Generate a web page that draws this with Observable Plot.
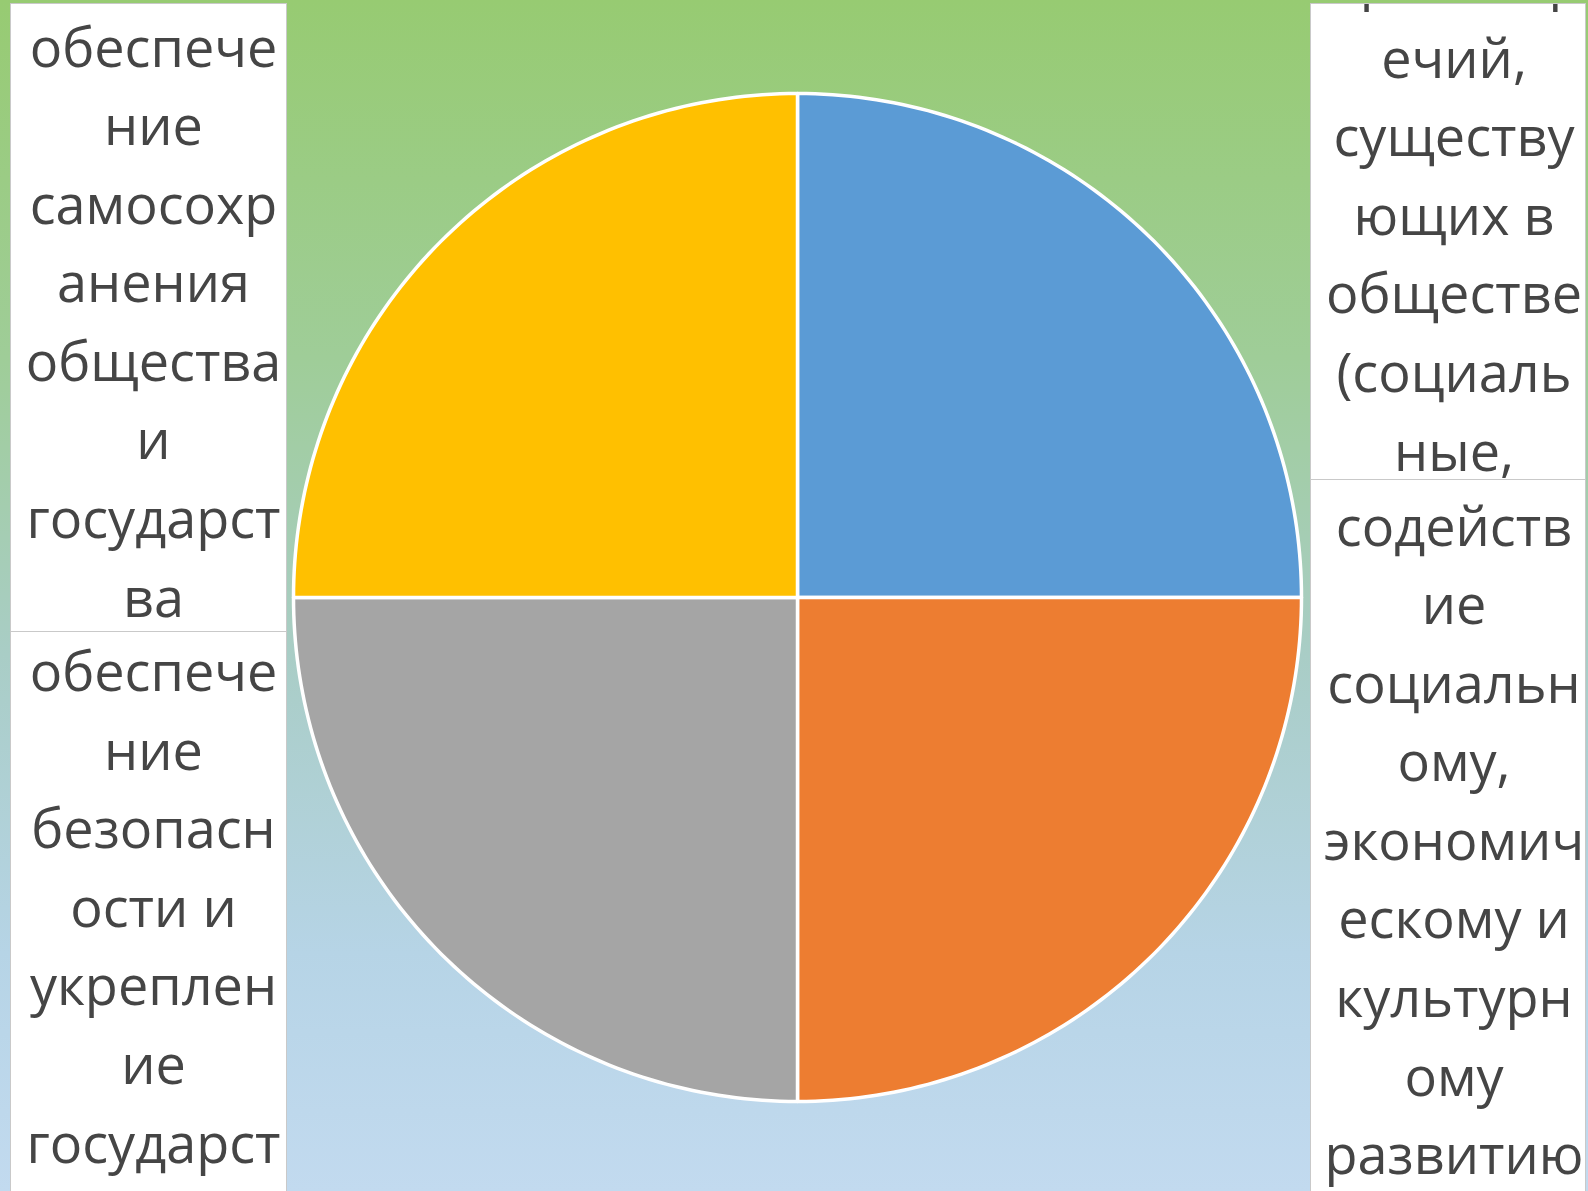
<!DOCTYPE html>
<html>
<head>
<meta charset="utf-8">
<script src="https://cdn.jsdelivr.net/npm/d3@7"></script>
<script src="https://cdn.jsdelivr.net/npm/@observablehq/plot@0.6"></script>
<style>
  html, body { margin: 0; padding: 0; }
  body {
    width: 1588px; height: 1191px; overflow: hidden; position: relative;
    background: linear-gradient(to bottom, #97cb72 0%, #9fcd98 30%, #a9cdc6 55%, #b6d4e6 80%, #c2daef 100%);
    font-family: "Open Sans", "DejaVu Sans", sans-serif;
  }
  #chart { position: absolute; left: 0; top: 0; }
  #chart svg { background: transparent !important; }
  .box {
    position: absolute; background: #ffffff; overflow: hidden;
    border: 1.5px solid #c9c9c9; box-sizing: border-box;
    color: #454545; font-size: 54px; text-align: center;
  }
  .box .line { height: 78.6px; line-height: 78.6px; white-space: nowrap; }
</style>
</head>
<body>
<div id="chart"></div>
<script>
// ---- data ----
const categories = ["Кв. 1", "Кв. 2", "Кв. 3", "Кв. 4"];
const values = [25, 25, 25, 25];
const colors = ["#5b9bd5", "#ed7d31", "#a5a5a5", "#ffc000"];

const leftTopLines = ["обеспече", "ние", "самосохр", "анения", "общества", "и", "государст", "ва"];
const leftBottomLines = ["обеспече", "ние", "безопасн", "ости и", "укреплен", "ие", "государст"];
const rightTopLines = ["противор", "ечий,", "существу", "ющих в", "обществе", "(социаль", "ные,"];
const rightBottomLines = ["содейств", "ие", "социальн", "ому,", "экономич", "ескому и", "культурн", "ому", "развитию"];

// ---- pie geometry from d3.pie (clockwise from 12 o'clock) ----
const arcs = d3.pie().sort(null).value(d => d)(values);
const pts = [];
arcs.forEach((a, i) => {
  const cat = categories[i];
  pts.push({cat, x: 0, y: 0});
  const n = 90;
  for (let k = 0; k <= n; k++) {
    const t = a.startAngle + (a.endAngle - a.startAngle) * k / n;
    pts.push({cat, x: Math.sin(t), y: Math.cos(t)});
  }
});

const chart = Plot.plot({
  width: 1588,
  height: 1191,
  marginLeft: 293,
  marginRight: 287,
  marginTop: 93,
  marginBottom: 90,
  x: {domain: [-1, 1], axis: null},
  y: {domain: [-1, 1], axis: null},
  color: {domain: categories, range: colors},
  style: {background: "transparent"},
  marks: [
    Plot.line(pts, {x: "x", y: "y", z: "cat", fill: "cat", stroke: "#ffffff", strokeWidth: 3.5, curve: "linear-closed", strokeLinejoin: "round"})
  ]
});
document.getElementById("chart").append(chart);

// ---- text boxes ----
function makeBox(lines, left, top, width, height, padTop, padLeft) {
  const box = document.createElement("div");
  box.className = "box";
  Object.assign(box.style, {left: left + "px", top: top + "px", width: width + "px", height: height + "px"});
  const inner = document.createElement("div");
  inner.style.marginTop = padTop + "px";
  inner.style.paddingLeft = padLeft + "px";
  for (const l of lines) {
    const d = document.createElement("div");
    d.className = "line";
    d.textContent = l;
    inner.append(d);
  }
  box.append(inner);
  document.body.append(box);
}
makeBox(leftTopLines, 10, 3, 277, 629, 2.5, 10);
makeBox(leftBottomLines, 10, 631, 277, 570, -1, 10);
makeBox(rightTopLines, 1310, 3, 276, 478, -65, 12);
makeBox(rightBottomLines, 1310, 479, 276, 720, 5.5, 12);
</script>
</body>
</html>
